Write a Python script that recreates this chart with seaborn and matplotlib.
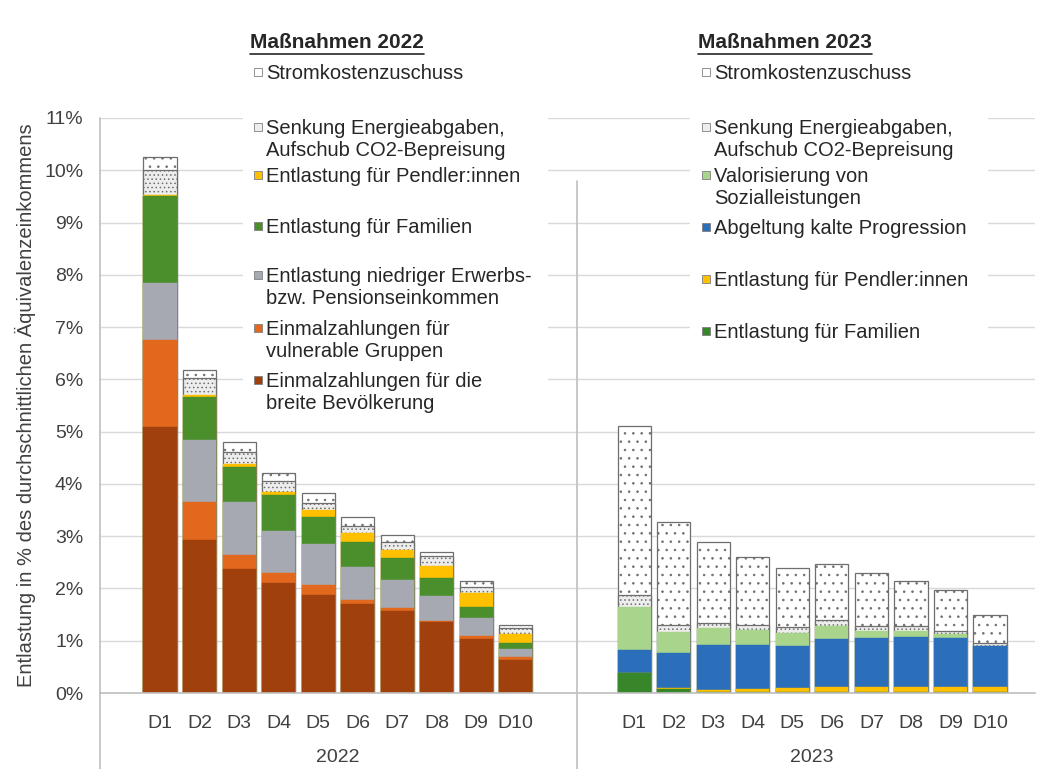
import pandas as pd
import matplotlib.pyplot as plt
import matplotlib.patches as mpatches
import matplotlib.lines as mlines
import matplotlib.transforms as mtransforms
import seaborn as sns

W, H = 1038, 769

deciles = ["D1", "D2", "D3", "D4", "D5", "D6", "D7", "D8", "D9", "D10"]
years = ["2022", "2023"]
y_ticks = [0, 1, 2, 3, 4, 5, 6, 7, 8, 9, 10, 11]

# Maßnahmen 2022 (Werte in % des Äquivalenzeinkommens)
strom_2022 = [0.26, 0.15, 0.19, 0.15, 0.19, 0.18, 0.13, 0.07, 0.11, 0.06]
energie_2022 = [0.48, 0.32, 0.23, 0.20, 0.13, 0.12, 0.15, 0.19, 0.12, 0.12]
pendler_2022 = [0.02, 0.03, 0.06, 0.06, 0.13, 0.18, 0.16, 0.23, 0.26, 0.18]
familien_2022 = [1.66, 0.83, 0.67, 0.69, 0.51, 0.47, 0.42, 0.35, 0.22, 0.10]
niedrig_2022 = [1.09, 1.18, 1.02, 0.81, 0.79, 0.64, 0.54, 0.48, 0.34, 0.17]
vulnerable_2022 = [1.66, 0.73, 0.27, 0.19, 0.20, 0.08, 0.06, 0.02, 0.06, 0.04]
breite_2022 = [5.09, 2.93, 2.37, 2.10, 1.87, 1.70, 1.56, 1.35, 1.03, 0.64]

# Maßnahmen 2023
strom_2023 = [3.23, 1.98, 1.56, 1.31, 1.14, 1.07, 1.01, 0.87, 0.78, 0.54]
energie_2023 = [0.22, 0.13, 0.09, 0.09, 0.12, 0.12, 0.09, 0.09, 0.06, 0.05]
valor_2023 = [0.83, 0.41, 0.32, 0.29, 0.25, 0.24, 0.13, 0.11, 0.07, 0.01]
kalte_2023 = [0.44, 0.67, 0.86, 0.85, 0.80, 0.93, 0.94, 0.96, 0.94, 0.77]
pendler_2023 = [0.00, 0.02, 0.04, 0.06, 0.08, 0.10, 0.11, 0.11, 0.11, 0.11]
familien_2023 = [0.38, 0.07, 0.02, 0.01, 0.01, 0.01, 0.01, 0.01, 0.01, 0.01]

labels_2022 = ["Stromkostenzuschuss",
               "Senkung Energieabgaben,\nAufschub CO2-Bepreisung",
               "Entlastung für Pendler:innen",
               "Entlastung für Familien",
               "Entlastung niedriger Erwerbs-\nbzw. Pensionseinkommen",
               "Einmalzahlungen für\nvulnerable Gruppen",
               "Einmalzahlungen für die\nbreite Bevölkerung"]
values_2022 = [strom_2022, energie_2022, pendler_2022, familien_2022,
               niedrig_2022, vulnerable_2022, breite_2022]

labels_2023 = ["Stromkostenzuschuss",
               "Senkung Energieabgaben,\nAufschub CO2-Bepreisung",
               "Valorisierung von\nSozialleistungen",
               "Abgeltung kalte Progression",
               "Entlastung für Pendler:innen",
               "Entlastung für Familien"]
values_2023 = [strom_2023, energie_2023, valor_2023, kalte_2023,
               pendler_2023, familien_2023]

# styles (legend order, top of stack first)
colors_2022 = ["#FFFFFF", "#EDEDED", "#FFC000", "#4A8F2C", "#A6A9B1", "#E2681E", "#A0400C"]
hatches_2022 = ["..", "....", None, None, None, None, None]
colors_2023 = ["#FFFFFF", "#EDEDED", "#A8D48C", "#2B6EBA", "#FFC000", "#38862A"]
hatches_2023 = ["..", "....", None, None, None, None]

# category order with two empty slots between the years (like the Excel chart)
order = [f"2022 {d}" for d in deciles] + ["gap1", "gap2"] + [f"2023 {d}" for d in deciles]

rows = []
for year, labels, values in [("2022", labels_2022, values_2022), ("2023", labels_2023, values_2023)]:
    for i, d in enumerate(deciles):
        cum = 0.0
        # stack from bottom (last legend entry) to top
        for k in range(len(labels) - 1, -1, -1):
            cum += values[k][i]
            rows.append({"year": year, "cat": f"{year} {d}", "layer": k, "cum": cum})
df = pd.DataFrame(rows)

sns.set_theme(style="white")
plt.rcParams["font.family"] = ["Liberation Sans", "DejaVu Sans"]
plt.rcParams["hatch.linewidth"] = 0.6

fig = plt.figure(figsize=(W / 100, H / 100), dpi=100)
ax = fig.add_axes([100 / W, 1 - 693 / H, 935 / W, 575 / H])

for year, colors, hatches in [("2022", colors_2022, hatches_2022), ("2023", colors_2023, hatches_2023)]:
    for k in range(len(colors)):
        sub = df[(df["year"] == year) & (df["layer"] == k)]
        hatched = hatches[k] is not None
        sns.barplot(data=sub, x="cat", y="cum", order=order, color=colors[k],
                    saturation=1, width=0.84, errorbar=None, ax=ax,
                    hatch=hatches[k], edgecolor="#6E6E6E" if hatched else colors[k],
                    linewidth=0.9 if hatched else 0.3)

ax.set_xlim(-1.52, 22.14)
ax.set_ylim(0, 11)
ax.set_yticks(y_ticks)
ax.set_yticklabels([f"{v}%" for v in y_ticks])
ax.set_xticks(range(len(order)))
ax.set_xticklabels([c.split(" ")[1] if " " in c else "" for c in order])
ax.tick_params(axis="y", length=0, pad=12, labelsize=14, labelcolor="#404040")
ax.tick_params(axis="x", length=0, pad=16, labelsize=14, labelcolor="#404040")
ax.set_xlabel("")
ax.set_ylabel("Entlastung in % des durchschnittlichen Äquivalenzeinkommens",
              fontsize=14.5, color="#404040", labelpad=6)
ax.yaxis.grid(True, color="#D9D9D9", linewidth=1)
ax.set_axisbelow(True)
for s in ["top", "right", "left"]:
    ax.spines[s].set_visible(False)
ax.spines["bottom"].set_color("#BFBFBF")
ax.spines["bottom"].set_linewidth(1.2)

# multi-level category axis
blend = mtransforms.blended_transform_factory(ax.transData, ax.transAxes)
ax.add_line(mlines.Line2D([-1.52, -1.52], [-0.135, 1.0], transform=blend,
                          color="#BFBFBF", lw=1.2, clip_on=False))
ax.add_line(mlines.Line2D([10.55, 10.55], [-0.135, 0.89], transform=blend,
                          color="#BFBFBF", lw=1.2, clip_on=False))
ax.text(4.5, -0.113, years[0], transform=blend, ha="center", va="center",
        fontsize=14, color="#404040")
ax.text(16.5, -0.113, years[1], transform=blend, ha="center", va="center",
        fontsize=14, color="#404040")


def px(x, y):
    return x / W, 1 - y / H


LINE_GAP = 22  # px between lines of one legend entry


def draw_legend(title, labels, colors, x0, rows_y, box):
    bx0, by0, bx1, by1 = box
    fig.add_artist(mpatches.Rectangle(px(bx0, by1), (bx1 - bx0) / W, (by1 - by0) / H,
                                      transform=fig.transFigure, facecolor="white",
                                      edgecolor="none", zorder=2))
    t = fig.text(*px(x0 - 16, 43), title, fontsize=15, fontweight="bold",
                 color="#262626", va="center", ha="left", zorder=4)
    for lab, col, yy in zip(labels, colors, rows_y):
        fig.add_artist(mpatches.Rectangle(px(x0 - 12, yy + 4), 8 / W, 8 / H,
                                          transform=fig.transFigure, facecolor=col,
                                          edgecolor="#7F7F7F", lw=0.6, zorder=4))
        nlines = lab.count("\n") + 1
        fig.text(*px(x0, yy + 7 + (nlines - 1) * LINE_GAP), lab, fontsize=14.5,
                 color="#262626", va="baseline", ha="left", linespacing=1.2, zorder=4)
    return t


t1 = draw_legend("Maßnahmen 2022", labels_2022, colors_2022, 266,
                 [72, 127, 175, 226, 275, 328, 380], (243, 26, 548, 418))
t2 = draw_legend("Maßnahmen 2023", labels_2023, colors_2023, 714,
                 [72, 127, 175, 227, 279, 331], (690, 26, 988, 350))

# underline the legend titles
fig.canvas.draw()
for t in (t1, t2):
    bb = t.get_window_extent()
    fig.add_artist(mlines.Line2D([bb.x0 / W, bb.x1 / W], [(bb.y0 - 1) / H, (bb.y0 - 1) / H],
                                 transform=fig.transFigure, color="#262626", lw=1.2, zorder=4))

fig.savefig("out.png", dpi=100)
